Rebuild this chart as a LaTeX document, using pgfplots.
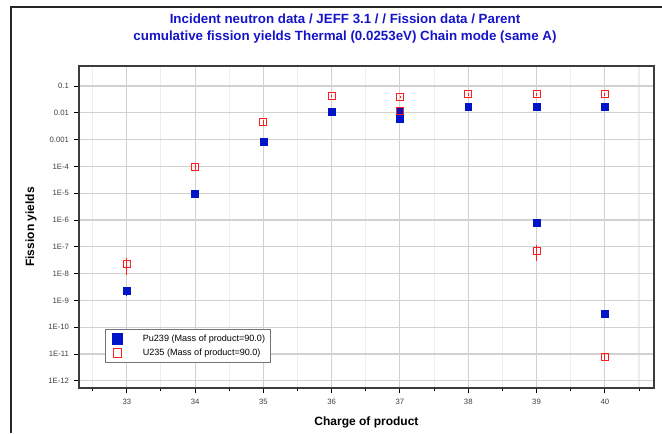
\documentclass[border=0pt]{standalone}
\usepackage{pgfplots}
\pgfplotsset{compat=1.18}
\usepackage{fontspec}
\setmainfont{Liberation Sans}
\definecolor{titleblue}{RGB}{20,20,200}
\definecolor{publue}{RGB}{0,20,200}
\definecolor{ured}{RGB}{255,30,30}
\definecolor{axisgray}{RGB}{60,60,60}
\pgfplotsset{wideimg/.style={legend image code/.code={\path[draw=none,fill=none] (-0.25cm,0cm) rectangle (0.6cm,0cm); \draw[##1] plot coordinates {(0cm,0cm)};}}}
\begin{document}
\begin{tikzpicture}
\begin{axis}[
  name=ax,
  at={(0,0)}, anchor=south west,
  scale only axis,
  width=431.25pt, height=241.5pt,
  ymode=log,
  xmin=32.3, xmax=40.72,
  ymin=5.4e-13, ymax=0.557,
  xtick={33,34,35,36,37,38,39,40},
  minor xtick={32.5,33.5,34.5,35.5,36.5,37.5,38.5,39.5,40.5},
  ytick={1e-12,1e-11,1e-10,1e-9,1e-8,1e-7,1e-6,1e-5,1e-4,1e-3,1e-2,1e-1},
  yticklabels={1E-12,1E-11,1E-10,1E-9,1E-8,1E-7,1E-6,1E-5,1E-4,0.001,0.01,0.1},
  yminorticks=false,
  xmajorgrids=true, xminorgrids=true, ymajorgrids=true, yminorgrids=false,
  major grid style={draw=black!18, line width=0.8pt},
  minor grid style={draw=black!7, line width=0.8pt},
  axis line style={draw=axisgray, line width=1.1pt},
  tick style={draw=black, line width=0.7pt},
  major tick length=4pt,
  minor tick length=2.5pt,
  tick align=outside,
  xtick pos=bottom, ytick pos=left,
  tick label style={font=\fontsize{5.8}{7}\selectfont, text=black!75},
  /pgf/number format/assume math mode=true,
  every x tick label/.append style={yshift=-1pt},
  legend style={at={(0.045,0.078)}, anchor=south west, draw=black!55, line width=0.6pt,
    font=\fontsize{6.8}{8}\selectfont, inner sep=2pt,
    legend cell align=left, fill=white},
]
\addplot[forget plot, only marks, mark=square*, mark size=2.6pt, color=publue, mark options={fill=publue, draw=publue},
  error bars/.cd, y dir=both, y explicit relative, error bar style={publue, line width=0.6pt}, error mark=none]
  coordinates {
  (33,2.3e-9) +- (0,0.35)
  (34,9.3e-6) +- (0,0.2)
  (35,8.1e-4) +- (0,0.2)
  (36,1.1e-2) +- (0,0.1)
  (37,1.1e-2) +- (0,0.1)
  (37,5.9e-3) +- (0,0.1)
  (38,1.7e-2) +- (0,0.1)
  (39,1.7e-2) +- (0,0.1)
  (40,1.7e-2) +- (0,0.1)
  (39,7.9e-7) +- (0,0.3)
  (40,3.2e-10) +- (0,0.2)
  };
\addplot[forget plot, only marks, mark=square, mark size=2.6pt, color=ured, mark options={draw=ured, line width=0.7pt},
  error bars/.cd, y dir=both, y explicit relative, error bar style={ured, line width=0.6pt}, error mark=none]
  coordinates {
  (33,2.3e-8) +- (0,0.6)
  (34,9.5e-5) +- (0,0.3)
  (35,4.5e-3) +- (0,0.2)
  (36,4.2e-2) +- (0,0.1)
  (37,3.9e-2) +- (0,0.1)
  (37,1.2e-2) +- (0,0.1)
  (38,4.9e-2) +- (0,0.1)
  (39,4.9e-2) +- (0,0.1)
  (40,4.9e-2) +- (0,0.1)
  (39,7.2e-8) +- (0,0.6)
  (40,7.7e-12) +- (0,0.3)
  };
\addlegendimage{only marks, mark=square*, mark size=4pt, publue, mark options={fill=publue, draw=publue}, wideimg}
\addlegendentry{Pu239 (Mass of product=90.0)}
\addlegendimage{only marks, mark=square, mark size=3.3pt, ured, mark options={draw=ured, line width=0.7pt}, wideimg}
\addlegendentry{U235 (Mass of product=90.0)}
\end{axis}
\useasboundingbox (-59.25pt,-33.75pt) rectangle (437.25pt,291pt);
\draw[black!85, line width=0.8pt] (-51pt,-33.75pt) -- (-51pt,285.75pt) -- (437.25pt,285.75pt);
\node[font=\fontsize{10}{12.5}\selectfont\bfseries, text=titleblue, align=center] at (199.5pt,269.5pt)
  {Incident neutron data / JEFF 3.1 / / Fission data / Parent\\cumulative fission yields Thermal (0.0253eV) Chain mode (same A)};
\node[font=\fontsize{9}{11}\selectfont\bfseries, rotate=90] at (-36pt,120.75pt) {Fission yields};
\node[font=\fontsize{9}{11}\selectfont\bfseries] at (215.6pt,-25.5pt) {Charge of product};
\end{tikzpicture}
\end{document}
